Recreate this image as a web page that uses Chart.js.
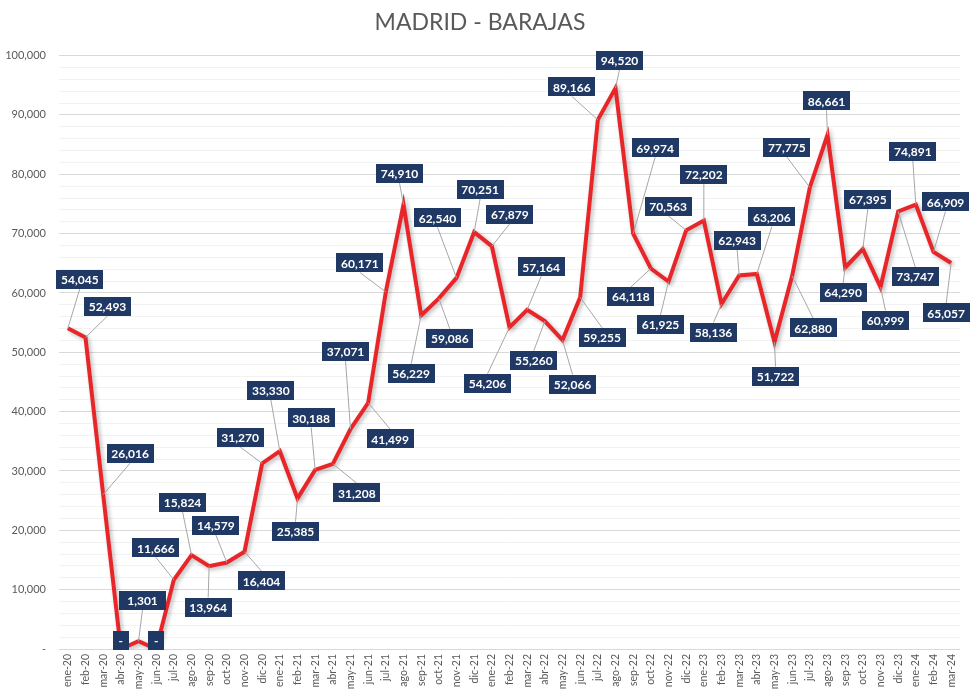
<!DOCTYPE html>
<html>
<head>
<meta charset="utf-8">
<title>Madrid - Barajas</title>
<script src="https://cdn.jsdelivr.net/npm/chart.js@4.4.1/dist/chart.umd.min.js"></script>
<style>
  html, body { margin: 0; padding: 0; background: #fff; }
  #wrap { width: 974px; height: 689px; }
</style>
</head>
<body>
<div id="wrap"><canvas id="chart" width="974" height="689"></canvas></div>
<script>
const months = [
    'ene-20', 'feb-20', 'mar-20', 'abr-20', 'may-20', 'jun-20', 'jul-20', 'ago-20', 'sep-20', 'oct-20', 'nov-20', 'dic-20',
    'ene-21', 'feb-21', 'mar-21', 'abr-21', 'may-21', 'jun-21', 'jul-21', 'ago-21', 'sep-21', 'oct-21', 'nov-21', 'dic-21',
    'ene-22', 'feb-22', 'mar-22', 'abr-22', 'may-22', 'jun-22', 'jul-22', 'ago-22', 'sep-22', 'oct-22', 'nov-22', 'dic-22',
    'ene-23', 'feb-23', 'mar-23', 'abr-23', 'may-23', 'jun-23', 'jul-23', 'ago-23', 'sep-23', 'oct-23', 'nov-23', 'dic-23',
    'ene-24', 'feb-24', 'mar-24'
];

const passengers = [
    54045, 52493, 26016, 0, 1301, 0, 11666, 15824, 13964, 14579, 16404, 31270,
    33330, 25385, 30188, 31208, 37071, 41499, 60171, 74910, 56229, 59086, 62540, 70251,
    67879, 54206, 57164, 55260, 52066, 59255, 89166, 94520, 69974, 64118, 61925, 70563,
    72202, 58136, 62943, 63206, 51722, 62880, 77775, 86661, 64290, 67395, 60999, 73747,
    74891, 66909, 65057
];

const yMin = 0;
const yMax = 100000;
const yMajorStep = 10000;
const yMinorStep = 2000;

// where each data label box sits, relative to its point (px)
const labelOffsets = [
    [12, -49], [22, -31], [27, -41], [0, -9], [4, -41], [0, -9], [-18, -32], [-9, -53], [-1, 41], [-11, -37], [17, 29], [-22, -26],
    [-9, -61], [-2, 33], [-4, -52], [24, 29], [-5, -78], [22, 36], [-26, -29], [-4, -31], [-10, 58], [11, 40], [-19, -60], [6, -43],
    [18, -32], [-22, 56], [14, -43], [-11, 39], [10, 44], [22, 40], [-26, -33], [4, -28], [22, -86], [-20, 28], [-8, 43], [-18, -24],
    [0, -46], [-8, 28], [-2, -35], [15, -57], [1, 34], [21, 52], [-23, -40], [-1, -34], [-2, 25], [5, -50], [5, 33], [17, 65],
    [-3, -53], [12, -50], [-5, 50]
];

const fmt = new Intl.NumberFormat('en-US');

// soft shadow under the red line
const lineShadow = {
    id: 'lineShadow',
    beforeDatasetDraw(chart) {
        const ctx = chart.ctx;
        ctx.save();
        ctx.shadowColor = 'rgba(0, 0, 0, 0.28)';
        ctx.shadowBlur = 4;
        ctx.shadowOffsetX = 2;
        ctx.shadowOffsetY = 2;
    },
    afterDatasetDraw(chart) {
        chart.ctx.restore();
    }
};

// navy boxes with leader lines, like the spreadsheet data labels
const boxLabels = {
    id: 'boxLabels',
    afterDatasetsDraw(chart) {
        const ctx = chart.ctx;
        const points = chart.getDatasetMeta(0).data;
        ctx.save();
        ctx.font = 'bold 12px Lato';
        ctx.textAlign = 'center';
        ctx.textBaseline = 'middle';
        points.forEach(function(pt, i) {
            const text = passengers[i] === 0 ? '-' : fmt.format(passengers[i]);
            const w = text === '-' ? 16 : 47;
            const h = 19;
            const cx = pt.x + labelOffsets[i][0];
            const cy = pt.y + labelOffsets[i][1];

            const gap = Math.abs(cy - pt.y) - h / 2;
            if (gap > 6) {
                const edgeY = cy > pt.y ? cy - h / 2 : cy + h / 2;
                ctx.strokeStyle = '#A6A6A6';
                ctx.lineWidth = 1;
                ctx.beginPath();
                ctx.moveTo(pt.x, pt.y);
                ctx.lineTo(cx, edgeY);
                ctx.stroke();
            }

            ctx.fillStyle = '#1F3864';
            ctx.fillRect(Math.round(cx - w / 2), Math.round(cy - h / 2), w, h);
            ctx.fillStyle = '#FFFFFF';
            ctx.fillText(text, cx, cy + 1);
        });
        ctx.restore();
    }
};

const ctx = document.getElementById('chart').getContext('2d');
new Chart(ctx, {
    type: 'line',
    data: {
        labels: months,
        datasets: [{
            label: 'Madrid - Barajas',
            data: passengers,
            borderColor: '#E8262A',
            borderWidth: 4,
            tension: 0,
            pointRadius: 0,
            pointHoverRadius: 0,
            fill: false
        }]
    },
    options: {
        responsive: false,
        animation: false,
        layout: {
            padding: { left: 0, right: 14, top: 0, bottom: 0 }
        },
        plugins: {
            legend: { display: false },
            tooltip: { enabled: false },
            title: {
                display: true,
                text: 'MADRID - BARAJAS',
                color: '#595959',
                font: { family: 'Lato', size: 23, weight: 'normal' },
                padding: { top: 9, bottom: 19 }
            }
        },
        scales: {
            x: {
                offset: true,
                grid: { display: false, drawTicks: false },
                border: { display: false },
                afterFit: function(axis) {
                    axis.height = 40;
                },
                ticks: {
                    color: '#595959',
                    font: { family: 'Lato', size: 10.5 },
                    minRotation: 90,
                    maxRotation: 90,
                    autoSkip: false,
                    padding: 5
                }
            },
            y: {
                min: yMin,
                max: yMax,
                afterBuildTicks: function(axis) {
                    const ticks = [];
                    for (let v = yMin; v <= yMax; v += yMinorStep) {
                        ticks.push({ value: v });
                    }
                    axis.ticks = ticks;
                },
                afterFit: function(axis) {
                    axis.width = 59;
                },
                border: { display: false },
                grid: {
                    drawTicks: false,
                    color: function(c) {
                        return c.tick && c.tick.value % yMajorStep === 0 ? '#D9D9D9' : '#F2F2F2';
                    },
                    lineWidth: 1
                },
                ticks: {
                    color: '#595959',
                    font: { family: 'Lato', size: 11 },
                    padding: 13,
                    autoSkip: false,
                    callback: function(value) {
                        if (value % yMajorStep !== 0) return '';
                        return value === 0 ? '-' : fmt.format(value);
                    }
                }
            }
        }
    },
    plugins: [lineShadow, boxLabels]
});
</script>
</body>
</html>
